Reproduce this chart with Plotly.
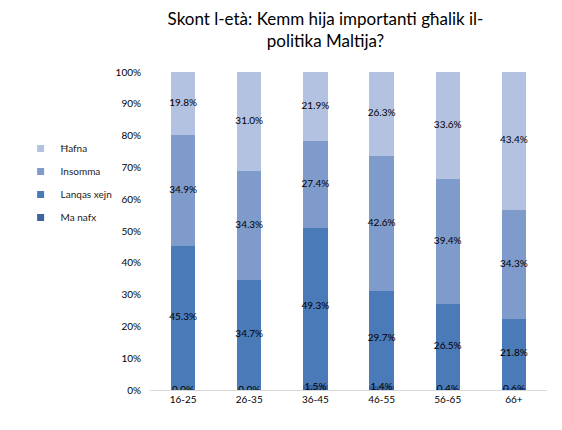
import numpy as np
import plotly.graph_objects as go

ages = ["16-25", "26-35", "36-45", "46-55", "56-65", "66+"]

ma_nafx = [0.0, 0.0, 1.5, 1.4, 0.4, 0.6]
lanqas_xejn = [45.3, 34.7, 49.3, 29.7, 26.5, 21.8]
insomma = [34.9, 34.3, 27.4, 42.6, 39.4, 34.3]
hafna = [19.8, 31.0, 21.9, 26.3, 33.6, 43.4]

series = [
    ("Ma nafx", ma_nafx, "#3b64a0", 4),
    ("Lanqas xejn", lanqas_xejn, "#4a7bb8", 3),
    ("Insomma", insomma, "#7f9bcb", 2),
    ("Ħafna", hafna, "#b3c2e0", 1),
]

fig = go.Figure()
base = np.zeros(len(ages))
for name, vals, color, rank in series:
    fig.add_trace(go.Bar(
        x=ages, y=vals, name=name, legendgroup=name, showlegend=False,
        marker=dict(color=color, line=dict(width=0)),
    ))
    # small square swatch for the legend, like the original
    fig.add_trace(go.Scatter(
        x=[None], y=[None], mode="markers", name=name,
        legendgroup=name, legendrank=rank,
        marker=dict(symbol="square", size=7, color=color),
    ))
    # labels sit at the middle of each segment
    mid = base + np.array(vals) / 2
    fig.add_trace(go.Scatter(
        x=ages, y=mid, mode="text", showlegend=False,
        text=[f"{v:.1f}%" for v in vals],
        textfont=dict(size=10, color="#000000", family="Lato"),
        hoverinfo="skip",
    ))
    base = base + np.array(vals)

fig.update_layout(
    barmode="stack",
    bargap=0.63,
    width=562, height=430,
    margin=dict(l=132, r=23, t=64, b=48),
    paper_bgcolor="white",
    plot_bgcolor="white",
    font=dict(family="Lato", size=10, color="#000000"),
    title=dict(
        text="Skont l-età: Kemm hija importanti għalik il-<br>politika Maltija?",
        x=0.565, xanchor="center", y=0.9605, yanchor="top",
        font=dict(size=17, color="#000000", family="Lato"),
    ),
    legend=dict(
        xref="paper", yref="paper",
        x=-0.3259, xanchor="left", y=0.805, yanchor="top",
        traceorder="grouped", tracegroupgap=4,
        font=dict(size=10, color="#222222"),
        itemwidth=30,
    ),
    showlegend=True,
)
fig.update_xaxes(
    showline=True, linecolor="#d9d9d9", linewidth=1,
    showgrid=False, ticks="", tickfont=dict(size=10),
)
fig.update_yaxes(
    range=[0, 100], dtick=10, ticksuffix="%",
    showgrid=False, zeroline=False, showline=False,
    ticklabelstandoff=8, tickfont=dict(size=10),
)

fig.write_html("out.html")
